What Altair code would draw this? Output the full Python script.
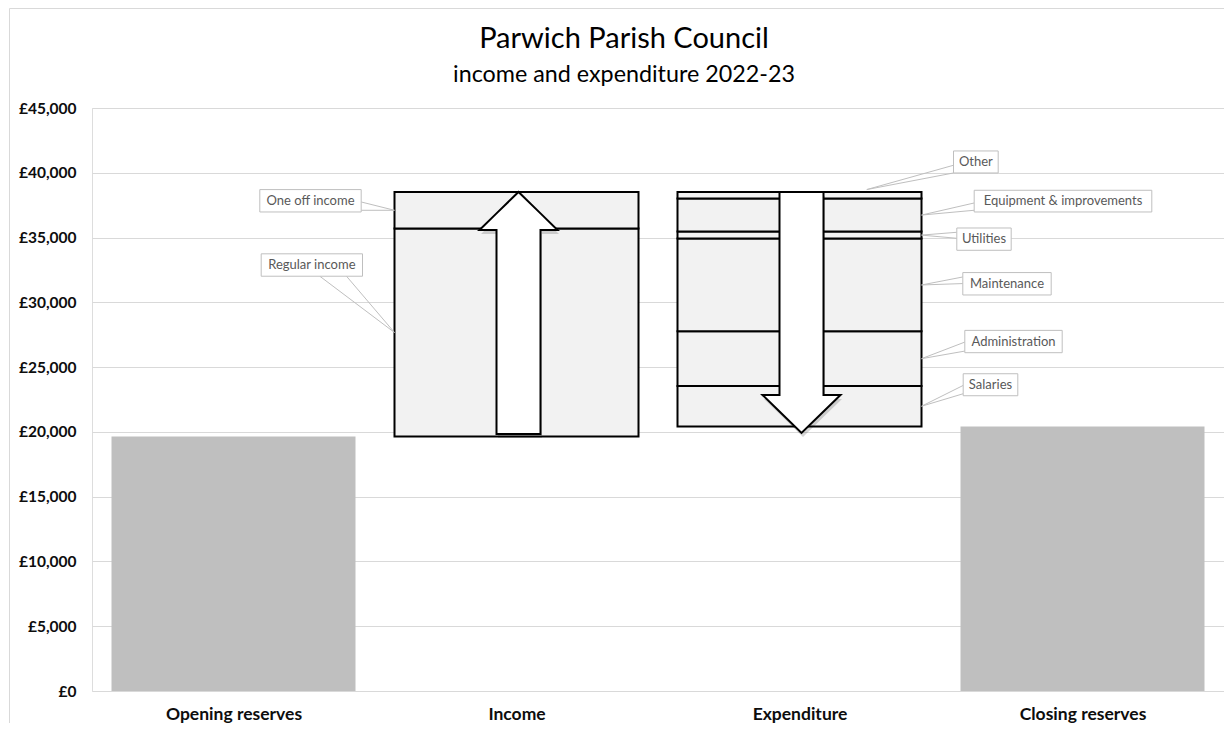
import altair as alt
import pandas as pd

# ---------------- data ----------------
title_text = "Parwich Parish Council"
subtitle_text = "income and expenditure 2022-23"
categories = ["Opening reserves", "Income", "Expenditure", "Closing reserves"]
opening_reserves = 19650
income_items = ["Regular income", "One off income"]
income_values = [16040, 2830]
expenditure_items = ["Salaries", "Administration", "Maintenance", "Utilities",
                     "Equipment & improvements", "Other"]
expenditure_values = [3120, 4220, 7160, 540, 2550, 510]
y_ticks = [0, 5000, 10000, 15000, 20000, 25000, 30000, 35000, 40000, 45000]
y_max = 45000

closing_reserves = opening_reserves + sum(income_values) - sum(expenditure_values)

# ---------------- layout ----------------
W, H = 1132, 583
PL, PT, PR, PB = 84, 100, 0, 32
NCAT = len(categories)
px_x = W / NCAT
px_y = H / y_max


def xd(px):
    return px / px_x


def yd(px):
    return px / px_y


inset = xd(19.5)
FONT = "Lato"

# ---------------- rectangles ----------------
reserve_rows = [
    {"x": 0 + inset, "x2": 1 - inset, "y": 0, "y2": opening_reserves},
    {"x": 3 + inset, "x2": 4 - inset, "y": 0, "y2": closing_reserves},
]

seg_rows = []
labels_target = {}
cum = opening_reserves
for name, v in zip(income_items, income_values):
    seg_rows.append({"x": 1 + inset, "x2": 2 - inset, "y": cum, "y2": cum + v, "name": name})
    labels_target[name] = (1 + inset, cum + v / 2)
    cum += v
income_top = cum
cum = closing_reserves
for name, v in zip(expenditure_items, expenditure_values):
    seg_rows.append({"x": 2 + inset, "x2": 3 - inset, "y": cum, "y2": cum + v, "name": name})
    labels_target[name] = (3 - inset, cum + v / 2)
    cum += v
expenditure_top = cum

# ---------------- arrows ----------------
EPS = 1e-7


def arrow(name, c, start, end, shaft_half, head_half, head_len, dx=0.0, dy=0.0):
    d = 1 if end > start else -1
    base = end - d * head_len
    hs = end - d * head_len * shaft_half / head_half
    pts = [
        (c - head_half, base, base),
        (c - shaft_half - EPS, hs, base),
        (c - shaft_half + EPS, hs, start),
        (c, end, start),
        (c + shaft_half - EPS, hs, start),
        (c + shaft_half + EPS, hs, base),
        (c + head_half, base, base),
    ]
    return [{"arrow": name, "x": p[0] + dx, "y": p[1] + dy, "y2": p[2] + dy} for p in pts]


arrow_rows = []
shadow_rows = []
specs = [
    ("up", 1.5 + xd(2), opening_reserves + yd(2.5), income_top),
    ("down", 2.5 + xd(2), expenditure_top, closing_reserves - yd(6.5)),
]
for nm, c, s, e in specs:
    arrow_rows += arrow(nm, c, s, e, xd(22), xd(39), yd(38))
    shadow_rows += arrow(nm, c, s, e, xd(22), xd(39), yd(38), dx=xd(1.5), dy=-yd(4))

# ---------------- callouts (pixel offsets from their target) ----------------
# name: (target dx, target dy, box l, t, r, b, wedge points)
callout_layout = {
    "One off income": (0, 0, -134.7, -20.7, -33.3, 1.7, [(-33.3, -8.3), (-33.3, 0)]),
    "Regular income": (0, 0, -133.3, -78.7, -32, -56.3, [(-74.7, -56.3), (-48, -56.3)]),
    "Other": (-54.7, -5.7, 86.7, -38.6, 131.4, -16.6, [(86.7, -24.3), (86.7, -16.6)]),
    "Equipment & improvements": (0, 0, 52.7, -24.8, 230.3, -3.1, [(52.7, -12.1), (52.7, -4.8)]),
    "Utilities": (0, 0, 35.3, -7.1, 89.7, 15.2, [(35.3, -2.8), (35.3, 3.2)]),
    "Maintenance": (0, 0, 41.3, -12.4, 129.7, 10, [(41.3, -8), (41.3, -1.4)]),
    "Administration": (0, 0, 43.3, -28.3, 140.7, -6, [(43.3, -16.6), (43.3, -7.6)]),
    "Salaries": (0, 0, 41.7, -32.5, 96.3, -10.5, [(41.7, -20.8), (41.7, -12.5)]),
}

box_rows, wedge_rows, text_rows = [], [], []
for name, (tdx, tdy, l, t, r, b, wedge) in callout_layout.items():
    tx, ty = labels_target[name]
    tx += xd(tdx)
    ty -= yd(tdy)
    box_rows.append({"x": tx + xd(l), "x2": tx + xd(r), "y": ty - yd(t), "y2": ty - yd(b)})
    text_rows.append({"x": tx + xd((l + r) / 2), "y": ty - yd((t + b) / 2), "name": name})
    for wx, wy in wedge:
        wedge_rows.append({"x": tx + xd(wx), "y": ty - yd(wy), "x2": tx, "y2": ty})

# ---------------- encodings ----------------
label_array = "[" + ",".join("'" + c + "'" for c in categories) + "]"
x_scale = alt.Scale(domain=[0, NCAT], nice=False, zero=False)
y_scale = alt.Scale(domain=[0, y_max], nice=False)
x_axis = alt.Axis(values=[i + 0.5 for i in range(NCAT)],
                  labelExpr=label_array + "[floor(datum.value)]",
                  grid=False, domain=False, ticks=False, title=None,
                  labelFont=FONT, labelFontWeight="bold", labelFontSize=17.5,
                  labelColor="#0d0d0d", labelPadding=14)
y_axis = alt.Axis(values=y_ticks, labelExpr="'£' + format(datum.value, ',')",
                  grid=True, gridColor="#d9d9d9", gridWidth=1, domain=False,
                  ticks=False, title=None, labelFont=FONT, labelFontWeight="bold",
                  labelFontSize=15.5, labelColor="#0d0d0d", labelPadding=16)


def X(f="x"):
    return alt.X(f + ":Q", scale=x_scale, axis=x_axis)


def Y(f="y"):
    return alt.Y(f + ":Q", scale=y_scale, axis=y_axis, stack=None)


one = alt.Data(values=[{"a": 1}])

border = alt.Chart(one).mark_rect(
    fillOpacity=0, stroke="#d9d9d9", strokeWidth=1
).encode(x=alt.value(9 - PL - 8 + 0.5), x2=alt.value(W + 40),
         y=alt.value(-PT + 0.5), y2=alt.value(H + 60))

# title block centred on the whole chart area (page x ~ 624)
title_cx = 624 - 8 - PL
title = alt.Chart(one).mark_text(
    font=FONT, fontSize=29, color="black", align="center", baseline="alphabetic"
).encode(x=alt.value(title_cx), y=alt.value(48 - 8 - PT), text=alt.value(title_text))
subtitle = alt.Chart(one).mark_text(
    font=FONT, fontSize=23.3, color="black", align="center", baseline="alphabetic"
).encode(x=alt.value(title_cx), y=alt.value(82 - 8 - PT), text=alt.value(subtitle_text))

reserves = alt.Chart(pd.DataFrame(reserve_rows)).mark_rect(color="#bfbfbf").encode(
    x=X(), x2="x2:Q", y=Y(), y2="y2:Q")

segments = alt.Chart(pd.DataFrame(seg_rows)).mark_rect(
    fill="#f2f2f2", stroke="black", strokeWidth=2
).encode(x=X(), x2="x2:Q", y=Y(), y2="y2:Q")

shadow = alt.Chart(pd.DataFrame(shadow_rows)).mark_area(
    fill="black", opacity=0.16, interpolate="linear"
).encode(x=X(), y=Y(), y2="y2:Q", detail="arrow:N")

arrows = alt.Chart(pd.DataFrame(arrow_rows)).mark_area(
    fill="white", stroke="black", strokeWidth=2, strokeJoin="miter", interpolate="linear"
).encode(x=X(), y=Y(), y2="y2:Q", detail="arrow:N")

wedges = alt.Chart(pd.DataFrame(wedge_rows)).mark_rule(color="#bfbfbf", strokeWidth=1).encode(
    x=X(), x2="x2:Q", y=Y(), y2="y2:Q")

boxes = alt.Chart(pd.DataFrame(box_rows)).mark_rect(
    fill="white", stroke="#bfbfbf", strokeWidth=1
).encode(x=X(), x2="x2:Q", y=Y(), y2="y2:Q")

texts = alt.Chart(pd.DataFrame(text_rows)).mark_text(
    font=FONT, fontSize=13, color="#595959", align="center", baseline="middle"
).encode(x=X(), y=Y(), text="name:N")

chart = alt.layer(border, title, subtitle, reserves, segments, shadow, arrows,
                  wedges, boxes, texts).properties(
    width=W, height=H,
    autosize=alt.AutoSizeParams(type="none"),
    padding={"left": PL, "top": PT, "right": PR, "bottom": PB},
).configure_view(stroke=None).configure(background="white")

chart.save("out.html", embed_options={"renderer": "svg", "actions": False})
